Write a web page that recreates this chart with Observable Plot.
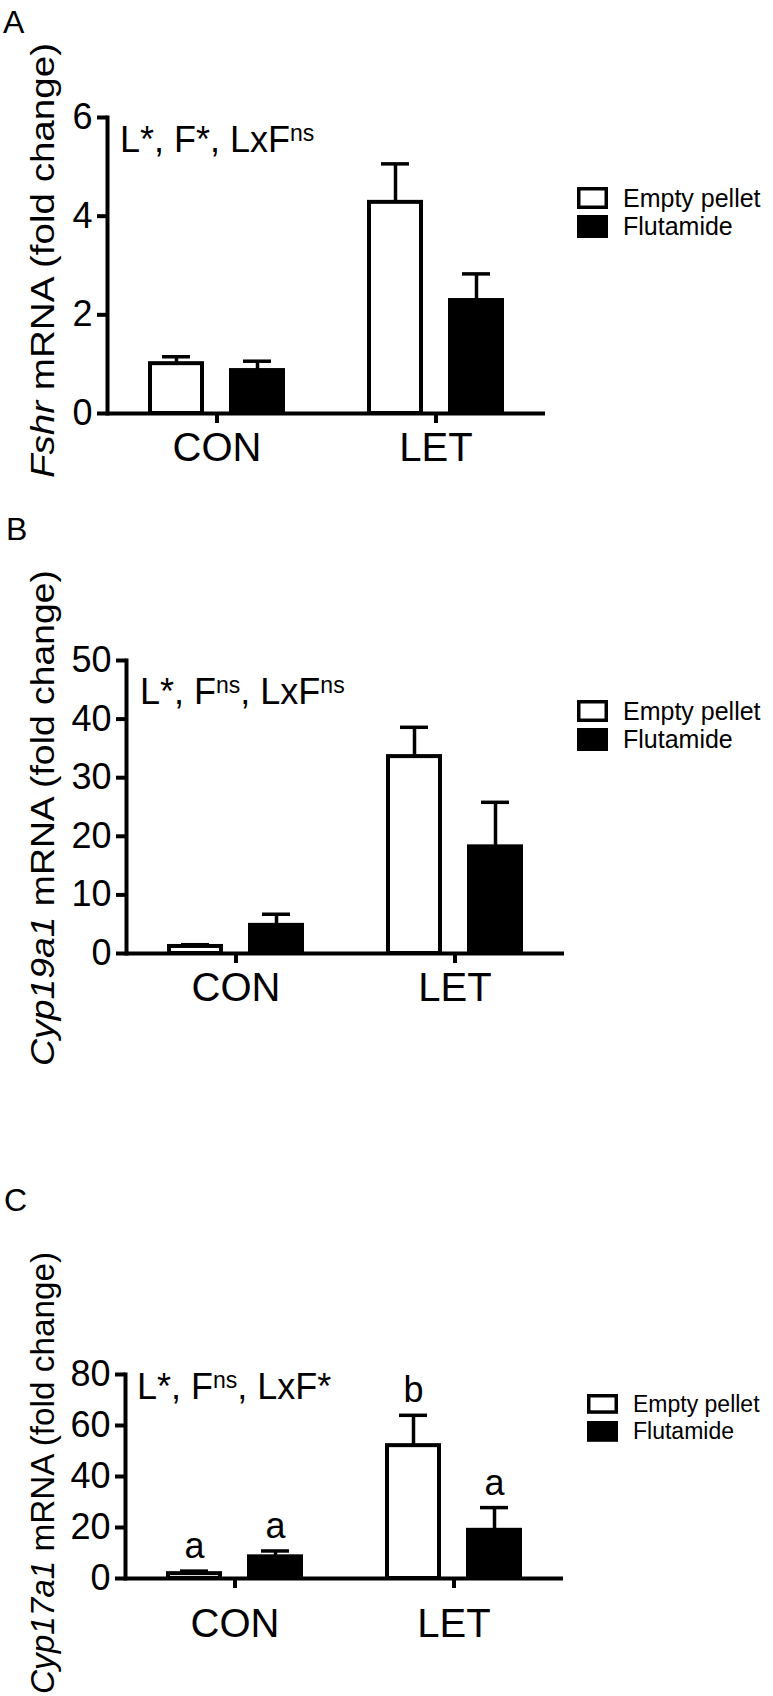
<!DOCTYPE html>
<html>
<head>
<meta charset="utf-8">
<script src="https://cdn.jsdelivr.net/npm/d3@7"></script>
<script src="https://cdn.jsdelivr.net/npm/@observablehq/plot@0.6"></script>
<style>
  html, body { margin: 0; padding: 0; background: #fff; }
  #page { position: relative; width: 773px; height: 1696px; overflow: hidden; background: #fff;
          font-family: "Liberation Sans", Arial, Helvetica, sans-serif; }
  .panel { position: absolute; left: 0; }
  #overlay { position: absolute; left: 0; top: 0; }
</style>
</head>
<body>
<div id="page"></div>
<script>
// ---------- data ----------
const groups = ["CON", "LET"];
const treatments = ["Empty pellet", "Flutamide"];
const barGroups = ["CON", "CON", "LET", "LET"];
const barTreatments = ["Empty pellet", "Flutamide", "Empty pellet", "Flutamide"];

// Panel A: Fshr
const fshrMean  = [1.01, 0.87, 4.28, 2.29];
const fshrUpper = [1.15, 1.06, 5.06, 2.83];
const fshrTicks = [0, 2, 4, 6];

// Panel B: Cyp19a1
const cyp19Mean  = [1.2, 4.8, 33.6, 18.2];
const cyp19Upper = [1.5, 6.7, 38.6, 25.8];
const cyp19Ticks = [0, 10, 20, 30, 40, 50];

// Panel C: Cyp17a1
const cyp17Mean    = [1.9, 8.5, 52.1, 18.9];
const cyp17Upper   = [2.9, 10.8, 64.0, 27.8];
const cyp17Ticks   = [0, 20, 40, 60, 80];
const cyp17Letters = ["a", "a", "b", "a"];

// statistics annotations: [text, isSuperscript]
const annotA = [["L*, F*, LxF", false], ["ns", true]];
const annotB = [["L*, F", false], ["ns", true], [", LxF", false], ["ns", true]];
const annotC = [["L*, F", false], ["ns", true], [", LxF*", false]];

// ---------- layout ----------
const FONT = '"Liberation Sans", Arial, Helvetica, sans-serif';
const panels = [
  {letter: "A", gene: "Fshr", mean: fshrMean, upper: fshrUpper, ticks: fshrTicks, yMax: 6, labels: null,
   axisTop: 117, axisBottom: 413, marginLeft: 107, annot: annotA, annotX: 120, annotY: 152,
   letterX: 3, letterY: 33, titleBottom: 478, titleLength: 435,
   legendX: 577, legendY: 187, legendStep: 28, boxScale: 1, legendFont: 25, fxPad: 9},
  {letter: "B", gene: "Cyp19a1", mean: cyp19Mean, upper: cyp19Upper, ticks: cyp19Ticks, yMax: 50, labels: null,
   axisTop: 660, axisBottom: 953, marginLeft: 126, annot: annotB, annotX: 140, annotY: 704,
   letterX: 6, letterY: 540, titleBottom: 1066, titleLength: 496,
   legendX: 577, legendY: 700, legendStep: 28, boxScale: 1, legendFont: 25, fxPad: 9},
  {letter: "C", gene: "Cyp17a1", mean: cyp17Mean, upper: cyp17Upper, ticks: cyp17Ticks, yMax: 80, labels: cyp17Letters,
   axisTop: 1374, axisBottom: 1578, marginLeft: 125, annot: annotC, annotX: 137, annotY: 1399,
   letterX: 4, letterY: 1211, titleBottom: 1694, titleLength: 442,
   legendX: 587, legendY: 1394, legendStep: 27, boxScale: 0.9, legendFont: 23, fxPad: 20}
];

const page = document.getElementById("page");
const PLOT_W = 438, MT = 25, MB = 75;

for (const p of panels) {
  const data = barGroups.map((g, i) => ({
    group: g, treatment: barTreatments[i], mean: p.mean[i], upper: p.upper[i],
    label: p.labels ? p.labels[i] : ""
  }));
  const h = p.axisBottom - p.axisTop;
  const chart = Plot.plot({
    width: 773,
    height: MT + h + MB,
    marginTop: MT, marginBottom: MB,
    marginLeft: p.marginLeft, marginRight: 773 - p.marginLeft - PLOT_W,
    style: {fontFamily: FONT, color: "black", background: "transparent", overflow: "visible"},
    fx: {domain: groups, padding: 0, axis: null},
    x: {domain: treatments, paddingInner: 0.305, paddingOuter: 0.5, axis: null},
    y: {domain: [0, p.yMax], axis: null},
    color: {domain: treatments, range: ["white", "black"]},
    marks: [
      Plot.ruleX(data, {fx: "group", x: "treatment", y1: "mean", y2: "upper", stroke: "black", strokeWidth: 3.5}),
      Plot.tickY(data, {fx: "group", x: "treatment", y: "upper", stroke: "black", strokeWidth: 3.5, insetLeft: 14, insetRight: 14}),
      Plot.barY(data, {fx: "group", x: "treatment", y: "mean", fill: "treatment", stroke: "black", strokeWidth: 4, insetLeft: 2, insetRight: 2}),
      p.labels ? Plot.text(data, {fx: "group", x: "treatment", y: "upper", text: "label", dy: -13, lineAnchor: "bottom", fontSize: 36, fill: "black"}) : null,
      Plot.ruleY([0], {stroke: "black", strokeWidth: 4}),
      Plot.frame({anchor: "left", facetAnchor: "left", stroke: "black", strokeWidth: 4, strokeLinecap: "square"}),
      Plot.axisY({ticks: p.ticks, tickFormat: d3.format("d"), tickSize: 10, tickPadding: 5, strokeWidth: 4, fontSize: 36, label: null}),
      Plot.axisFx({anchor: "bottom", tickSize: 10, tickPadding: p.fxPad, strokeWidth: 4, fontSize: 40, label: null})
    ]
  });
  chart.classList.add("panel");
  chart.style.top = (p.axisTop - MT) + "px";
  page.appendChild(chart);
}

// ---------- overlay: panel letters, y titles, statistics, legends ----------
const svg = d3.select(page).append("svg")
  .attr("id", "overlay").attr("width", 773).attr("height", 1696)
  .style("font-family", FONT);

for (const p of panels) {
  svg.append("text").attr("x", p.letterX).attr("y", p.letterY)
    .attr("font-size", 32).attr("fill", "black").text(p.letter);

  const t = svg.append("text")
    .attr("transform", `translate(54,${p.titleBottom}) rotate(-90)`)
    .attr("font-size", 33).attr("fill", "black")
    .attr("textLength", p.titleLength).attr("lengthAdjust", "spacingAndGlyphs");
  t.append("tspan").attr("font-style", "italic").text(p.gene);
  t.append("tspan").text(" mRNA (fold change)");

  const a = svg.append("text").attr("x", p.annotX).attr("y", p.annotY)
    .attr("font-size", 36).attr("fill", "black");
  let raised = false;
  for (const [s, sup] of p.annot) {
    const ts = a.append("tspan").text(s);
    if (sup) { ts.attr("font-size", 23).attr("dy", raised ? 0 : -11); raised = true; }
    else { if (raised) ts.attr("dy", 11); raised = false; }
  }

  const lg = svg.append("g");
  const bw = 31, bh = 22 * p.boxScale;
  treatments.forEach((tr, i) => {
    const y0 = p.legendY + i * p.legendStep;
    if (i === 0) {
      lg.append("rect").attr("x", p.legendX + 1.75).attr("y", y0 + 1.75)
        .attr("width", bw - 3.5).attr("height", bh - 3.5)
        .attr("fill", "white").attr("stroke", "black").attr("stroke-width", 3.5);
    } else {
      lg.append("rect").attr("x", p.legendX).attr("y", y0)
        .attr("width", bw).attr("height", bh + 1).attr("fill", "black");
    }
    lg.append("text").attr("x", p.legendX + 46).attr("y", y0 + bh / 2 + p.legendFont * 0.36)
      .attr("font-size", p.legendFont).attr("fill", "black").text(tr);
  });
}
</script>
</body>
</html>
